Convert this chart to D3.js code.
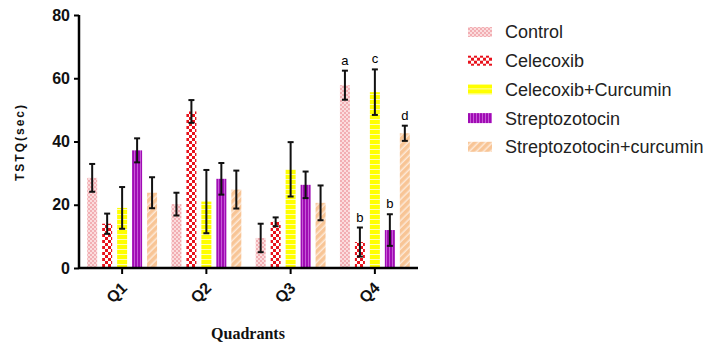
<!DOCTYPE html>
<html>
<head>
<meta charset="utf-8">
<script src="https://cdn.jsdelivr.net/npm/d3@7"></script>
<style>
  body { margin: 0; background: #fff; }
  svg { display: block; font-family: "Liberation Sans", Arial, sans-serif; }
</style>
</head>
<body>
<svg id="chart" width="711" height="348"></svg>
<script>
// Data
const quadrants = ["Q1", "Q2", "Q3", "Q4"];
const groups = ["Control", "Celecoxib", "Celecoxib+Curcumin", "Streptozotocin", "Streptozotocin+curcumin"];
const control = [28.5, 20.2, 9.5, 57.8];
const celecoxib = [14, 49.5, 14.6, 8.2];
const celecoxibCurcumin = [19, 21, 31.2, 55.6];
const streptozotocin = [37.2, 28.2, 26.3, 12];
const streptozotocinCurcumin = [23.8, 24.8, 20.6, 42.6];
const errControl = [4.4, 3.6, 4.5, 4.6];
const errCelecoxib = [3.2, 3.6, 1.4, 4.6];
const errCelecoxibCurcumin = [6.6, 10, 8.6, 7.2];
const errStreptozotocin = [3.8, 5, 4.2, 5];
const errStreptozotocinCurcumin = [4.9, 6, 5.5, 2.4];
// significance letters (Q4 only)
const letters = [
    { q: "Q4", group: "Control", text: "a" },
    { q: "Q4", group: "Celecoxib", text: "b" },
    { q: "Q4", group: "Celecoxib+Curcumin", text: "c" },
    { q: "Q4", group: "Streptozotocin", text: "b" },
    { q: "Q4", group: "Streptozotocin+curcumin", text: "d" },
];
const yTicks = [0, 20, 40, 60, 80];

const seriesValues = [control, celecoxib, celecoxibCurcumin, streptozotocin, streptozotocinCurcumin];
const seriesErrors = [errControl, errCelecoxib, errCelecoxibCurcumin, errStreptozotocin, errStreptozotocinCurcumin];

const bars = [];
quadrants.forEach((q, qi) => {
    groups.forEach((g, gi) => {
        bars.push({ q, group: g, gi, value: seriesValues[gi][qi], err: seriesErrors[gi][qi] });
    });
});

const svg = d3.select("#chart");
const defs = svg.append("defs");

// Fill patterns
function addPattern(id, w, h, build) {
    const p = defs.append("pattern")
        .attr("id", id)
        .attr("patternUnits", "userSpaceOnUse")
        .attr("width", w)
        .attr("height", h);
    build(p);
}
addPattern("p-control", 4, 4, (p) => {
    p.append("rect").attr("width", 4).attr("height", 4).attr("fill", "#fbdcdd");
    p.append("rect").attr("width", 2).attr("height", 2).attr("fill", "#f2aeb3");
    p.append("rect").attr("x", 2).attr("y", 2).attr("width", 2).attr("height", 2).attr("fill", "#f2aeb3");
});
addPattern("p-celecoxib", 6, 6, (p) => {
    p.append("rect").attr("width", 6).attr("height", 6).attr("fill", "#ffffff");
    p.append("rect").attr("width", 3).attr("height", 3).attr("fill", "#e8121c");
    p.append("rect").attr("x", 3).attr("y", 3).attr("width", 3).attr("height", 3).attr("fill", "#e8121c");
});
addPattern("p-celcur", 6, 5, (p) => {
    p.append("rect").attr("width", 6).attr("height", 5).attr("fill", "#ffff00");
    p.append("rect").attr("y", 4).attr("width", 6).attr("height", 1).attr("fill", "#fdfdb8");
});
addPattern("p-strep", 3, 4, (p) => {
    p.append("rect").attr("width", 3).attr("height", 4).attr("fill", "#a00cb4");
    p.append("rect").attr("x", 2).attr("width", 1).attr("height", 4).attr("fill", "#c65ad6");
});
addPattern("p-strepcur", 5, 5, (p) => {
    p.attr("patternTransform", "rotate(45)");
    p.append("rect").attr("width", 5).attr("height", 5).attr("fill", "#f8c596");
    p.append("rect").attr("x", 3.5).attr("width", 1.5).attr("height", 5).attr("fill", "#fde9d8");
});
const fills = ["url(#p-control)", "url(#p-celecoxib)", "url(#p-celcur)", "url(#p-strep)", "url(#p-strepcur)"];

// Scales
const x = d3.scaleBand().domain(quadrants).range([80, 417]);
const xInner = d3.scaleBand().domain(groups).range([0, x.bandwidth()])
    .paddingInner(1 / 3).paddingOuter(0.48);
const y = d3.scaleLinear().domain([0, 80]).range([268, 15]);

// Bars
const barG = svg.append("g");
barG.selectAll("rect")
    .data(bars)
    .join("rect")
    .attr("x", (d) => x(d.q) + xInner(d.group))
    .attr("y", (d) => y(d.value))
    .attr("width", xInner.bandwidth())
    .attr("height", (d) => y(0) - y(d.value))
    .attr("fill", (d) => fills[d.gi]);

// Error bars
const errG = svg.append("g").attr("stroke", "#111").attr("stroke-width", 2);
const ex = (d) => x(d.q) + xInner(d.group) + xInner.bandwidth() / 2;
errG.selectAll("line.v").data(bars).join("line").attr("class", "v")
    .attr("x1", ex).attr("x2", ex)
    .attr("y1", (d) => y(d.value + d.err)).attr("y2", (d) => y(d.value - d.err));
errG.selectAll("line.t").data(bars).join("line").attr("class", "t")
    .attr("x1", (d) => ex(d) - 3).attr("x2", (d) => ex(d) + 3)
    .attr("y1", (d) => y(d.value + d.err)).attr("y2", (d) => y(d.value + d.err));
errG.selectAll("line.b").data(bars).join("line").attr("class", "b")
    .attr("x1", (d) => ex(d) - 3).attr("x2", (d) => ex(d) + 3)
    .attr("y1", (d) => y(d.value - d.err)).attr("y2", (d) => y(d.value - d.err));

// Letters
svg.append("g").selectAll("text")
    .data(letters)
    .join("text")
    .attr("x", (d) => x(d.q) + xInner(d.group) + xInner.bandwidth() / 2)
    .attr("y", (d) => {
        const b = bars.find((e) => e.q === d.q && e.group === d.group);
        return y(b.value + b.err) - 6;
    })
    .attr("text-anchor", "middle")
    .attr("font-size", 13)
    .attr("fill", "#000")
    .text((d) => d.text);

// Axes
const yAxis = svg.append("g")
    .attr("transform", "translate(79,0)")
    .call(d3.axisLeft(y).tickValues(yTicks).tickSize(5).tickPadding(4));
const xAxis = svg.append("g")
    .attr("transform", "translate(0,268)")
    .call(d3.axisBottom(x).tickSize(6).tickPadding(4));
[yAxis, xAxis].forEach((a) => {
    a.select(".domain").attr("stroke", "#000").attr("stroke-width", 2.5);
    a.selectAll(".tick line").attr("stroke", "#000").attr("stroke-width", 2);
    a.selectAll("text").attr("font-size", 16).attr("font-weight", "bold")
        .attr("font-family", "'Liberation Sans', Arial, sans-serif").attr("fill", "#111");
});
yAxis.select(".domain").attr("d", `M0,${y(0)}V${y(80)}`);
xAxis.select(".domain").attr("d", "M79,0H418");
xAxis.selectAll(".tick text")
    .attr("x", 0)
    .attr("y", 0)
    .attr("dy", "0.35em")
    .attr("text-anchor", "end")
    .attr("transform", "translate(2,17) rotate(-45)");

// Axis titles
svg.append("text")
    .attr("transform", "translate(24,142) rotate(-90)")
    .attr("text-anchor", "middle")
    .attr("font-size", 12)
    .attr("font-weight", "bold")
    .attr("letter-spacing", 2)
    .attr("fill", "#111")
    .text("TSTQ(sec)");
svg.append("text")
    .attr("x", 248)
    .attr("y", 339)
    .attr("text-anchor", "middle")
    .attr("font-family", "'Liberation Serif', 'Times New Roman', serif")
    .attr("font-size", 16)
    .attr("font-weight", "bold")
    .attr("fill", "#111")
    .text("Quadrants");

// Legend
const legend = svg.append("g").selectAll("g")
    .data(groups)
    .join("g")
    .attr("transform", (d, i) => `translate(468,${32 + i * 28.7})`);
legend.append("rect")
    .attr("y", -5)
    .attr("width", 24)
    .attr("height", 10)
    .attr("fill", (d, i) => fills[i]);
legend.append("text")
    .attr("x", 37)
    .attr("dy", "0.36em")
    .attr("font-size", 18)
    .attr("fill", "#222")
    .text((d) => d);
</script>
</body>
</html>
